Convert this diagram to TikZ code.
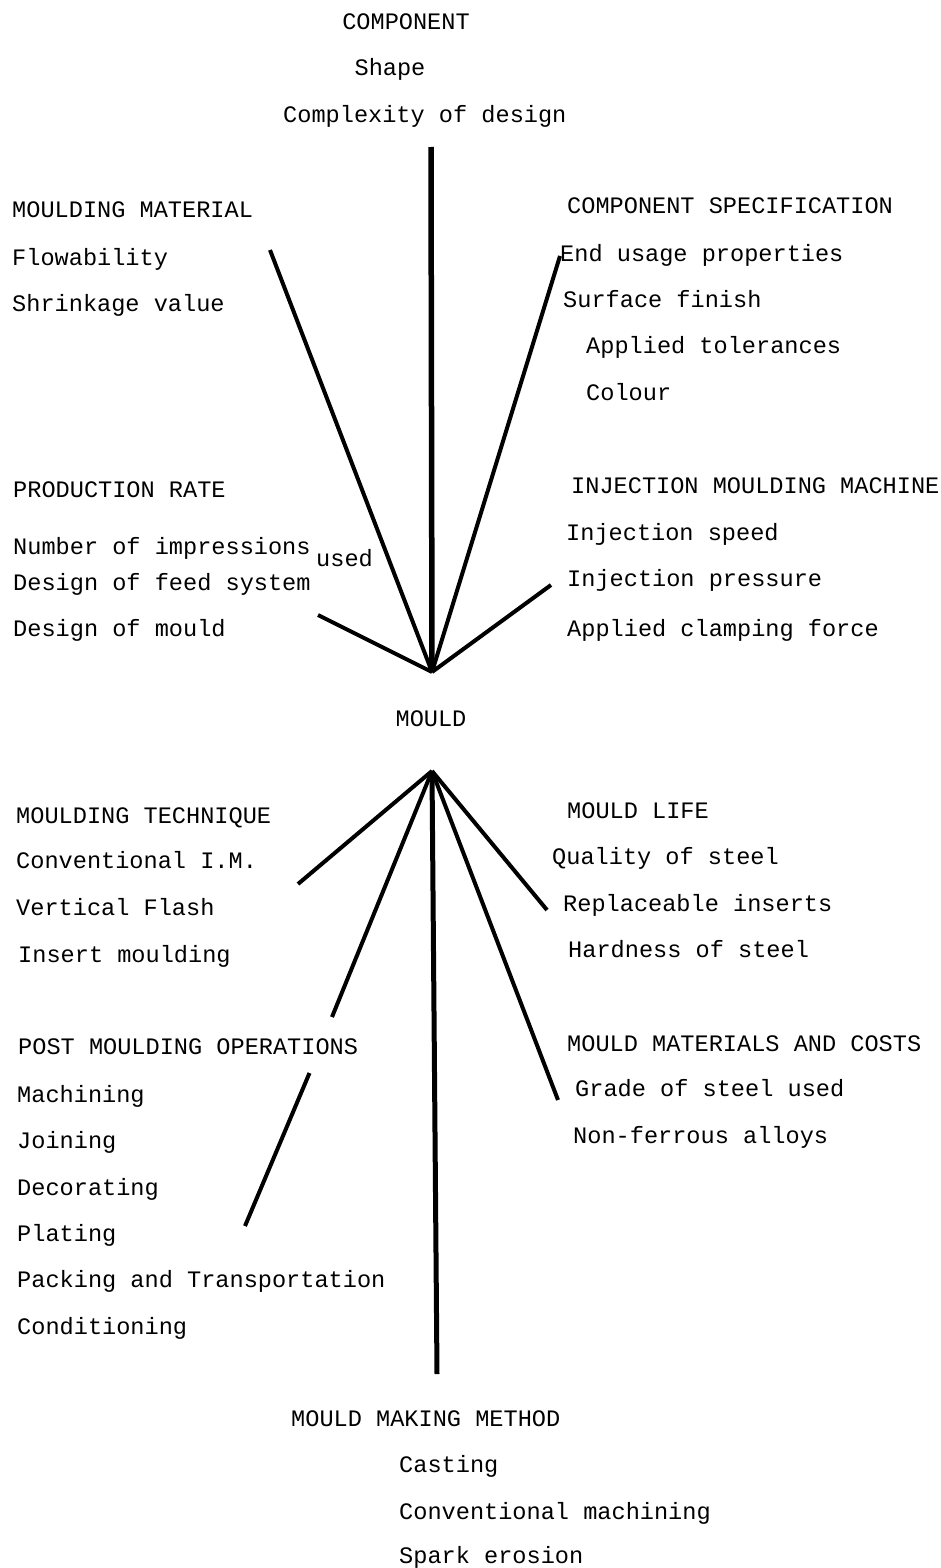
\documentclass[tikz,border=0pt]{standalone}
\usepackage{fontspec}
\setmonofont{Liberation Mono}
\usetikzlibrary{positioning,calc}
\definecolor{ink}{HTML}{000000}
\tikzset{
  hd/.style={anchor=base west, inner sep=0pt, font=\ttfamily\fontsize{23.6}{28}\selectfont, text=ink},
  it/.style={anchor=base west, inner sep=0pt, font=\ttfamily\fontsize{23.6}{28}\selectfont, text=ink},
  spk/.style={draw=ink, line width=4pt},
  stem/.style={draw=ink, line width=5.5pt},
}

\begin{document}
\begin{tikzpicture}[x=1pt,y=-1pt]
  \useasboundingbox (0,0) rectangle (940,1568);
  \coordinate (top) at (432,672);
  \coordinate (bot) at (432,771);
  % upper fan
  \node[hd, anchor=base] (comp) at (406,30) {COMPONENT};
  \node[it, anchor=base] (shp) at (390,76) {Shape};
  \node[it] (cplx) at (283,123) {Complexity of design};
  \node[hd] (mmat) at (12,217) {MOULDING MATERIAL};
  \node[it] (flow) at (12,265) {Flowability};
  \node[it] (shrk) at (12,311) {Shrinkage value};
  \node[hd] (cspec) at (567,213) {COMPONENT SPECIFICATION};
  \node[it] (endu) at (560,261) {End usage properties};
  \node[it] (surf) at (563,307) {Surface finish};
  \node[it] (tol) at (586,353) {Applied tolerances};
  \node[it] (col) at (586,400) {Colour};
  \node[hd] (prate) at (13,497) {PRODUCTION RATE};
  \node[it] (nimp) at (13,554) {Number of impressions};
  \node[it] (used) at (316,566) {used};
  \node[it] (feed) at (13,590) {Design of feed system};
  \node[it] (dmld) at (13,636) {Design of mould};
  \node[hd] (imm) at (571,493) {INJECTION MOULDING MACHINE};
  \node[it] (ispd) at (566,540) {Injection speed};
  \node[it] (iprs) at (567,586) {Injection pressure};
  \node[it] (clmp) at (567,636) {Applied clamping force};
  \node[hd, anchor=base] (mould) at (431,726) {MOULD};
  % lower fan
  \node[hd] (mtech) at (16,823) {MOULDING TECHNIQUE};
  \node[it] (cim) at (16,868) {Conventional I.M.};
  \node[it] (vfl) at (16,915) {Vertical Flash};
  \node[it] (ins) at (18,962) {Insert moulding};
  \node[hd] (post) at (18,1054) {POST MOULDING OPERATIONS};
  \node[it] (mach) at (17,1102) {Machining};
  \node[it] (join) at (17,1148) {Joining};
  \node[it] (deco) at (17,1195) {Decorating};
  \node[it] (plat) at (17,1241) {Plating};
  \node[it] (pack) at (17,1287) {Packing and Transportation};
  \node[it] (cond) at (17,1334) {Conditioning};
  \node[hd] (mlife) at (567,818) {MOULD LIFE};
  \node[it] (qual) at (552,864) {Quality of steel};
  \node[it] (repl) at (563,911) {Replaceable inserts};
  \node[it] (hard) at (568,957) {Hardness of steel};
  \node[hd] (mmc) at (567,1051) {MOULD MATERIALS AND COSTS};
  \node[it] (grade) at (575,1096) {Grade of steel used};
  \node[it] (nfer) at (573,1143) {Non-ferrous alloys};
  \node[hd] (mmm) at (291,1426) {MOULD MAKING METHOD};
  \node[it] (cast) at (399,1472) {Casting};
  \node[it] (cmach) at (399,1519) {Conventional machining};
  \node[it] (spark) at (399,1563) {Spark erosion};
  % spokes
  \coordinate (ctop) at (431,147);
  \coordinate (cmat) at (270,250);
  \coordinate (cspc) at (560,256);
  \coordinate (crate) at (318,615);
  \coordinate (cinj) at (551,585);
  \coordinate (ctech) at (298,884);
  \coordinate (cpost) at (332,1017);
  \coordinate (cpost2) at (309.5,1073);
  \coordinate (cpost3) at (245,1226);
  \coordinate (cbase) at (437,1374);
  \coordinate (clife) at (547,910);
  \coordinate (cmmc) at (558,1100);
  \draw[stem] (ctop) -- (top);
  \draw[spk] (cmat) -- (top);
  \draw[spk] (cspc) -- (top);
  \draw[spk] (crate) -- (top);
  \draw[spk] (cinj) -- (top);
  \draw[spk] (bot) -- (ctech);
  \draw[spk] (bot) -- (cpost);
  \draw[spk] (cpost2) -- (cpost3);
  \draw[stem, line width=5pt] (bot) -- (cbase);
  \draw[spk] (bot) -- (clife);
  \draw[spk] (bot) -- (cmmc);
\end{tikzpicture}
\end{document}
